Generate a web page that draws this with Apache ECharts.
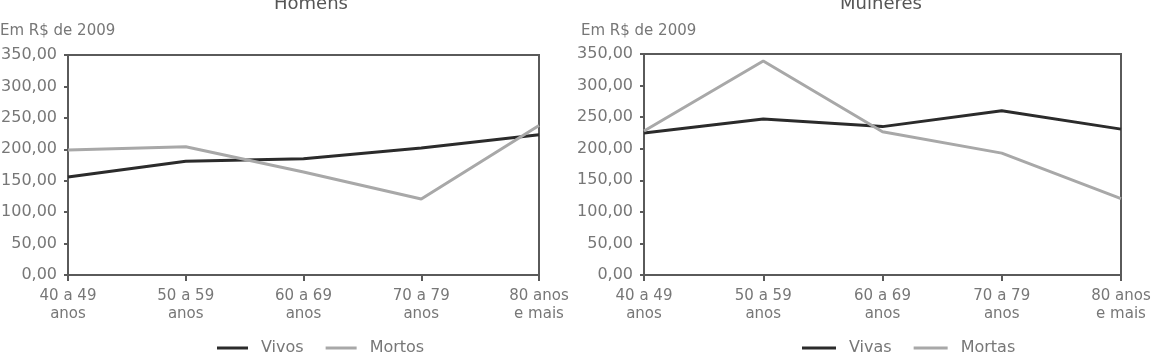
<!DOCTYPE html>
<html>
<head>
<meta charset="utf-8">
<script src="https://cdn.jsdelivr.net/npm/echarts@6/dist/echarts.min.js"></script>
<style>
  html, body { margin: 0; padding: 0; background: #fff; }
  #main { width: 1159px; height: 362px; }
</style>
</head>
<body>
<div id="main"></div>
<script type="text/javascript">
    // faixas etárias
    var faixas = ['40 a 49\nanos', '50 a 59\nanos', '60 a 69\nanos', '70 a 79\nanos', '80 anos\ne mais'];
    // Homens
    var homensVivos = [156, 181, 185, 202, 223];
    var homensMortos = [199, 204, 164, 121, 238];
    // Mulheres
    var mulheresVivas = [225, 247, 235, 260, 231];
    var mulheresMortas = [228, 339, 227, 193, 121];

    var fonte = 'DejaVu Sans';
    var corTexto = '#777';
    var corEixo = '#5a5a5a';
    var corEscura = '#2b2b2b';
    var corClara = '#a8a8a8';

    function eixoX(idx) {
        return {
            type: 'category', gridIndex: idx, data: faixas, boundaryGap: false,
            axisLine: { lineStyle: { color: corEixo, width: 2 } },
            axisTick: { show: true, length: 6, lineStyle: { color: corEixo, width: 2 } },
            axisLabel: { color: corTexto, fontFamily: fonte, fontSize: 15, lineHeight: 18, margin: 12, interval: 0 },
            splitLine: { show: false }
        };
    }
    function eixoY(idx) {
        return {
            type: 'value', gridIndex: idx, min: 0, max: 350, interval: 50,
            axisLine: { show: true, lineStyle: { color: corEixo, width: 2 } },
            axisTick: { show: true, length: 4, lineStyle: { color: corEixo, width: 2 } },
            axisLabel: {
                color: corTexto, fontFamily: fonte, fontSize: 16, margin: 11,
                formatter: function (v) { return v.toFixed(2).replace('.', ','); }
            },
            splitLine: { show: false }
        };
    }
    function serie(nome, idx, dados, cor) {
        return {
            name: nome, type: 'line', xAxisIndex: idx, yAxisIndex: idx, data: dados,
            symbol: 'none', lineStyle: { color: cor, width: 3 }, itemStyle: { color: cor }
        };
    }

    var myChart = echarts.init(document.getElementById('main'));
    var option = {
        animation: false,
        title: [
            { text: 'Homens', left: 306, textAlign: 'center', top: -10, textStyle: { fontFamily: fonte, fontSize: 18, fontWeight: 'normal', color: '#555' } },
            { text: 'Mulheres', left: 876, textAlign: 'center', top: -10, textStyle: { fontFamily: fonte, fontSize: 18, fontWeight: 'normal', color: '#555' } },
            { text: 'Em R$ de 2009', left: -5, top: 19, textStyle: { fontFamily: fonte, fontSize: 15, fontWeight: 'normal', color: corTexto } },
            { text: 'Em R$ de 2009', left: 576, top: 19, textStyle: { fontFamily: fonte, fontSize: 15, fontWeight: 'normal', color: corTexto } }
        ],
        legend: [
            {
                data: ['Vivos', 'Mortos'], left: 212, top: 335, icon: 'rect', itemWidth: 31, itemHeight: 3, itemGap: 22,
                textStyle: { fontFamily: fonte, fontSize: 16, color: corTexto, padding: [0, 0, 0, 8] }
            },
            {
                data: ['Vivas', 'Mortas'], left: 797, top: 335, icon: 'rect', itemWidth: 34, itemHeight: 3, itemGap: 22,
                textStyle: { fontFamily: fonte, fontSize: 16, color: corTexto, padding: [0, 0, 0, 8] }
            }
        ],
        grid: [
            { left: 68, right: 620, top: 55, bottom: 87, show: true, borderColor: corEixo, borderWidth: 2, outerBoundsMode: 'none' },
            { left: 644, right: 38, top: 54, bottom: 87, show: true, borderColor: corEixo, borderWidth: 2, outerBoundsMode: 'none' }
        ],
        xAxis: [eixoX(0), eixoX(1)],
        yAxis: [eixoY(0), eixoY(1)],
        series: [
            serie('Vivos', 0, homensVivos, corEscura),
            serie('Mortos', 0, homensMortos, corClara),
            serie('Vivas', 1, mulheresVivas, corEscura),
            serie('Mortas', 1, mulheresMortas, corClara)
        ]
    };
    myChart.setOption(option);
</script>
</body>
</html>
